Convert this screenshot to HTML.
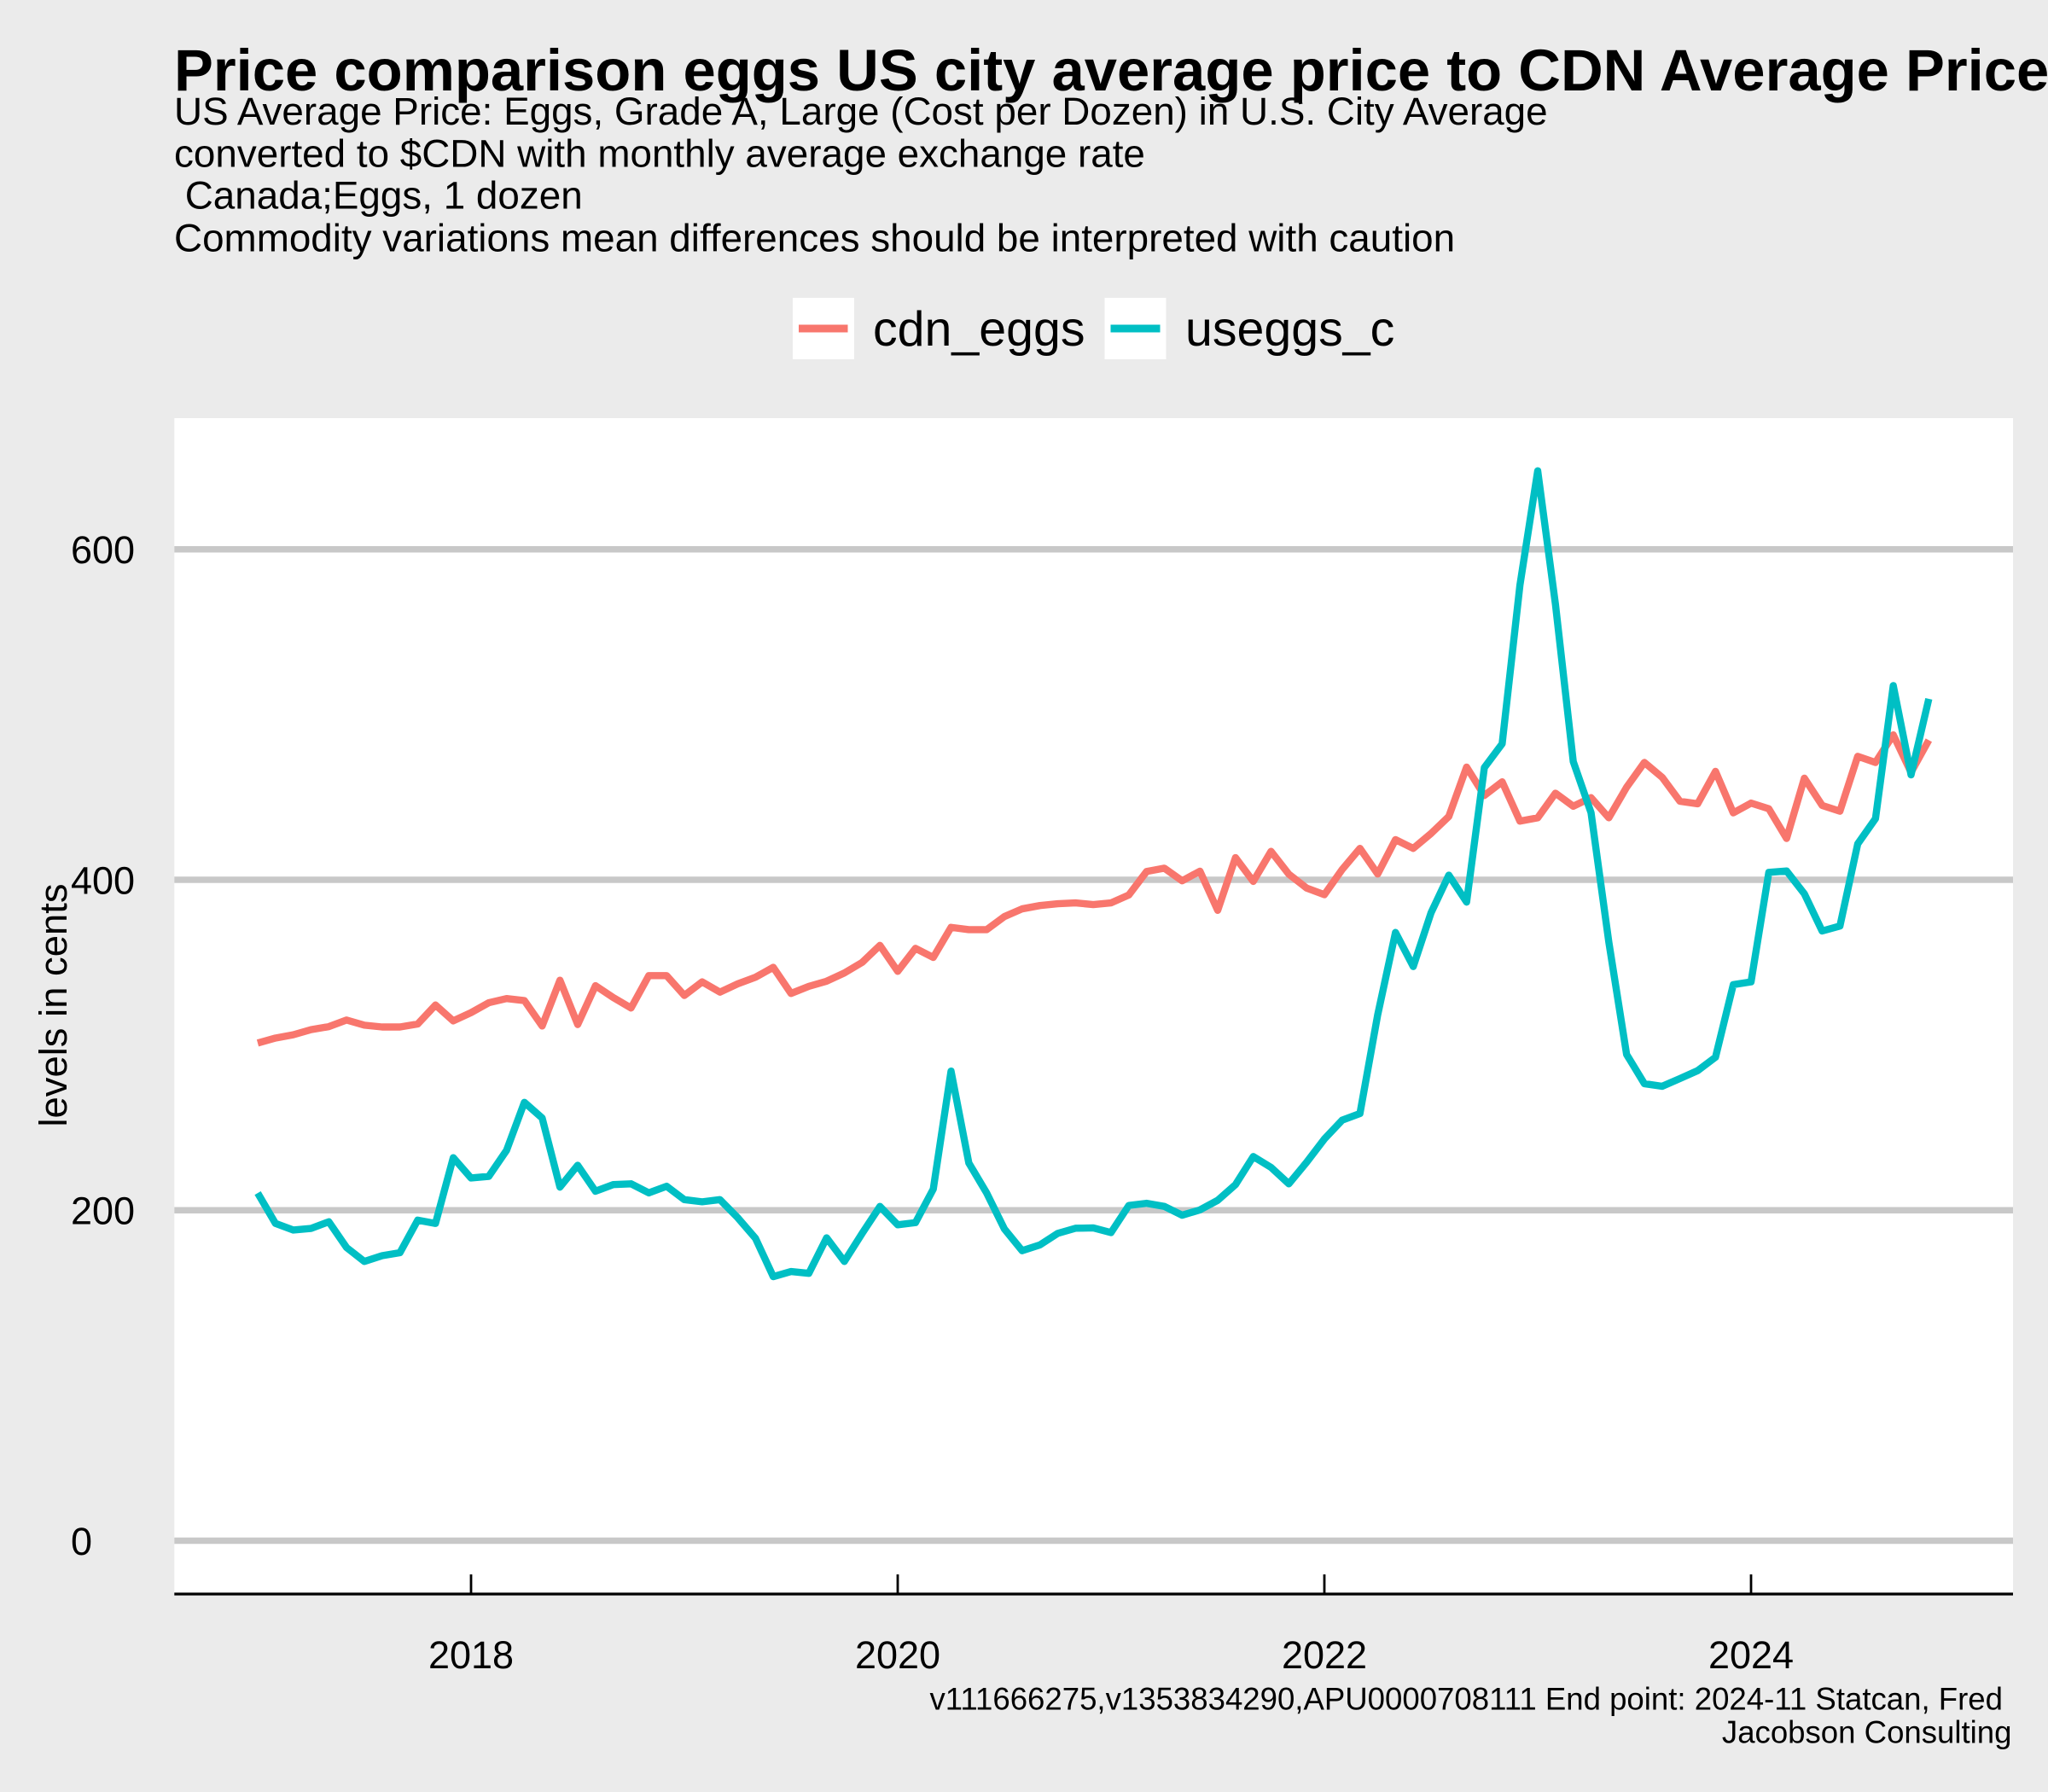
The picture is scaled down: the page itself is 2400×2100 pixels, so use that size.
<!DOCTYPE html>
<html lang="en">
<head>
<meta charset="utf-8">
<title>Price comparison eggs</title>
<style>
html,body{margin:0;padding:0;background:#ebebeb;width:2400px;height:2100px;overflow:hidden}
svg{display:block}
text{font-family:"Liberation Sans",Arial,sans-serif;fill:#000}
</style>
</head>
<body>
<svg id="chart" xmlns="http://www.w3.org/2000/svg" width="2400" height="2100" viewBox="0 0 2400 2100">
  <rect x="0" y="0" width="2400" height="2100" fill="#ebebeb"/>
  <rect x="204.3" y="490" width="2154.7" height="1378" fill="#ffffff"/>
  <g id="grid"></g>
  <g id="series"></g>
  <line x1="204.3" x2="2359" y1="1868" y2="1868" stroke="#000" stroke-width="3.2"/>
  <g id="xaxis"></g>
  <g id="yaxis"></g>

  <text x="204" y="106" font-size="68.8" font-weight="700">Price comparison eggs US city average price to CDN Average Price</text>
  <text x="204" y="146" font-size="45.8">US Average Price: Eggs, Grade A, Large (Cost per Dozen) in U.S. City Average</text>
  <text x="204" y="195.5" font-size="45.8">converted to $CDN with monthly average exchange rate</text>
  <text x="204" y="244.5" font-size="45.8" xml:space="preserve"> Canada;Eggs, 1 dozen</text>
  <text x="204" y="294.5" font-size="45.8">Commodity variations mean differences should be interpreted with caution</text>

  <g>
    <g>
      <rect x="929" y="349" width="72" height="72" fill="#ffffff"/>
      <line x1="936" x2="993.5" y1="385" y2="385" stroke="#F8766D" stroke-width="9"/>
      <text x="1023" y="405" font-size="57.3">cdn_eggs</text>
    </g>
    <g>
      <rect x="1294.5" y="349" width="72" height="72" fill="#ffffff"/>
      <line x1="1301.5" x2="1359.5" y1="385" y2="385" stroke="#00BFC4" stroke-width="9"/>
      <text x="1389" y="405" font-size="57.3">useggs_c</text>
    </g>
  </g>

  <text transform="translate(78,1178) rotate(-90)" text-anchor="middle" font-size="45.4">levels in cents</text>

  <text x="2347" y="2003.5" text-anchor="end" font-size="36.6">v111666275,v1353834290,APU0000708111 End point: 2024-11 Statcan, Fred</text>
  <text x="2357.5" y="2042.5" text-anchor="end" font-size="36.6">Jacobson Consulting</text>
</svg>

<script>
const startYear = 2017;
const cdnEggs = [301.2,304.2,306.2,309.3,311.1,315.1,312,310.9,310.9,312.7,324.2,314.6,319.6,325.6,328.1,326.9,311.5,339.2,312.4,335.9,328.7,322.4,342,342,330,338.2,332,337,341,347,331.2,335.5,338.6,343.6,350,360.3,344.6,358.5,353,371.2,369.8,369.8,377.7,382.4,384.4,385.5,386,385,386,390.8,405,407,399.4,405.2,381.5,413.4,399,417.2,403.4,395,391,406.2,419,403.5,424.3,419,428,438.3,468.2,451,459.3,435.5,437.5,452.4,444.5,449.7,437.5,456,471,462,447.5,446,465.6,440.5,446.4,443,425,461.5,445,441.5,474.7,471,487.7,465,484.5];
const usEggsC = [210.4,192,188,189,193,177.4,169,172.5,174.3,194,192,231.8,219.5,220.5,236.3,265.3,255.8,214,227.2,211.5,215.5,216,210.5,214.5,206.4,205.1,206.4,195.5,183,159.8,162.9,161.8,183.3,169,186,202.3,191.2,192.5,212.8,284.2,228.6,210.5,188.7,175.5,179,186,189.1,189.3,186.5,202.9,204.2,202.3,197,200.2,206,215.5,232.5,225.9,216,229,243.1,254.5,258.5,318.3,368.1,347.5,380,402.8,386.5,467.9,482.3,578.3,647.5,566.6,471.5,440.6,362.3,294.3,276.6,275,279.7,284.5,292.6,336.5,338.2,404.5,405.3,391.5,369,372,421.7,437,517.5,463.5,509.5];
const yTicks = [0,200,400,600];
const xTicks = [2018,2020,2022,2024];

const NS = 'http://www.w3.org/2000/svg';
function xScale(yearValue){ return 552 + (yearValue - 2018) * 250; }
function yScale(value){ return 1805.5 - value * 1.9363; }
function monthX(i){ return xScale(startYear + i / 12); }

const grid = document.getElementById('grid');
const yaxis = document.getElementById('yaxis');
const xaxis = document.getElementById('xaxis');
const series = document.getElementById('series');

yTicks.forEach(function(t){
  const g = document.createElementNS(NS,'line');
  
  
  g.setAttribute('x1', 204.3);
  g.setAttribute('x2', 2359);
  g.setAttribute('y1', yScale(t));
  g.setAttribute('y2', yScale(t));
  g.setAttribute('stroke', '#c8c8c8');
  g.setAttribute('stroke-width', 7.5);
  grid.appendChild(g);
  const l = document.createElementNS(NS,'text');
  
  
  l.setAttribute('x', 83);
  l.setAttribute('y', yScale(t) + 16.5);
  l.setAttribute('font-size', 45);
  l.textContent = String(t);
  yaxis.appendChild(l);
});

xTicks.forEach(function(t){
  const k = document.createElementNS(NS,'line');
  
  
  k.setAttribute('x1', xScale(t));
  k.setAttribute('x2', xScale(t));
  k.setAttribute('y1', 1845);
  k.setAttribute('y2', 1868);
  k.setAttribute('stroke', '#000');
  k.setAttribute('stroke-width', 2.8);
  xaxis.appendChild(k);
  const l = document.createElementNS(NS,'text');
  
  
  l.setAttribute('x', xScale(t));
  l.setAttribute('y', 1955);
  l.setAttribute('text-anchor', 'middle');
  l.setAttribute('font-size', 45);
  l.textContent = String(t);
  xaxis.appendChild(l);
});

function drawLine(values, color, name){
  const p = document.createElementNS(NS,'polyline');
  
  
  p.setAttribute('points', values.map(function(v,i){ return monthX(i).toFixed(2) + ',' + yScale(v).toFixed(2); }).join(' '));
  p.setAttribute('fill', 'none');
  p.setAttribute('stroke', color);
  p.setAttribute('stroke-width', 8.4);
  p.setAttribute('stroke-linejoin', 'round');
  p.setAttribute('stroke-linecap', 'butt');
  series.appendChild(p);
}
drawLine(cdnEggs, '#F8766D', 'line-cdn-eggs');
drawLine(usEggsC, '#00BFC4', 'line-useggs-c');
</script>
</body>
</html>
